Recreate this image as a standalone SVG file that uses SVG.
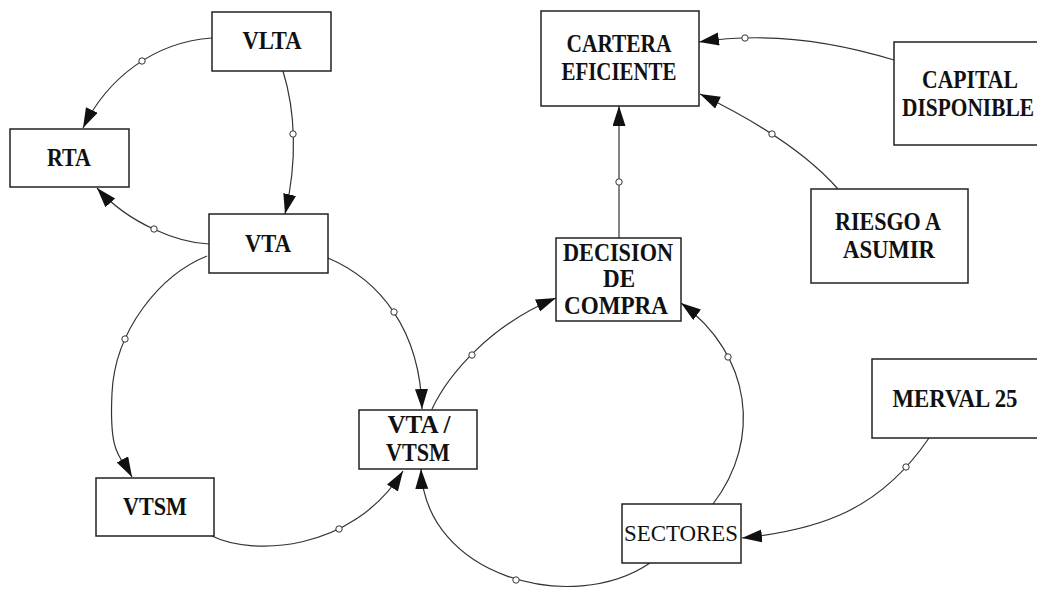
<svg xmlns="http://www.w3.org/2000/svg" width="1037" height="590" viewBox="0 0 1037 590">
<style>
.box{fill:#fff;stroke:#222;stroke-width:1.5}
.lbl{font-family:"Liberation Serif","Times New Roman",serif;font-weight:bold;font-size:24.5px;fill:#111;text-anchor:middle}
.reg{font-weight:normal;font-size:23px}
.con{fill:none;stroke:#333;stroke-width:1.2;marker-end:url(#ah)}
.dot{fill:#fff;stroke:#333;stroke-width:1}
</style>
<defs>
<marker id="ah" markerUnits="userSpaceOnUse" markerWidth="22" markerHeight="14" refX="20" refY="6.5" orient="auto">
<path d="M0,0 L20,6.5 L0,13 z" fill="#111"/>
</marker>
</defs>
<rect width="1037" height="590" fill="#fff"/>
<g id="connectors">
<path class="con" d="M212,38 C155,42 108,77 83,128"/>
<path class="con" d="M283,71 C295,110 298,160 285,214"/>
<path class="con" d="M209,244 C180,243 130,225 97,188"/>
<path class="con" d="M207,256 C160,275 115,330 112,393 C109,456 120,455 132,477"/>
<path class="con" d="M328,258 C380,280 420,330 422,409"/>
<path class="con" d="M212,536 C250,555 351,554 403,471"/>
<path class="con" d="M432,409 C448,375 490,325 556,298"/>
<path class="con" d="M650,563 C572,616 425,577 421,469"/>
<path class="con" d="M713,504 C762,440 752,355 681,303"/>
<path class="con" d="M929,438 C880,510 820,530 742,538"/>
<path class="con" d="M619,238 L619,106"/>
<path class="con" d="M838,189 Q795,140 700,94"/>
<path class="con" d="M894,60 Q790,28 699,42"/>
<circle class="dot" cx="142" cy="61" r="3.2"/>
<circle class="dot" cx="293" cy="134" r="3.2"/>
<circle class="dot" cx="154" cy="229" r="3.2"/>
<circle class="dot" cx="125" cy="339" r="3.2"/>
<circle class="dot" cx="394" cy="312" r="3.2"/>
<circle class="dot" cx="339" cy="529" r="3.2"/>
<circle class="dot" cx="472" cy="355" r="3.2"/>
<circle class="dot" cx="516" cy="580" r="3.2"/>
<circle class="dot" cx="728" cy="357" r="3.2"/>
<circle class="dot" cx="906" cy="467" r="3.2"/>
<circle class="dot" cx="619" cy="182" r="3.2"/>
<circle class="dot" cx="772" cy="134" r="3.2"/>
<circle class="dot" cx="745" cy="38" r="3.2"/>
</g>
<g id="VLTA"><rect class="box" x="212" y="12" width="119" height="59"/><text class="lbl" x="272" y="49" textLength="59" lengthAdjust="spacingAndGlyphs">VLTA</text></g>
<g id="RTA"><rect class="box" x="10" y="129" width="119" height="58"/><text class="lbl" x="69" y="166" textLength="44" lengthAdjust="spacingAndGlyphs">RTA</text></g>
<g id="VTA"><rect class="box" x="209" y="214" width="119" height="59"/><text class="lbl" x="268" y="252" textLength="46" lengthAdjust="spacingAndGlyphs">VTA</text></g>
<g id="VTSM"><rect class="box" x="96" y="478" width="118" height="58"/><text class="lbl" x="155" y="515" textLength="64" lengthAdjust="spacingAndGlyphs">VTSM</text></g>
<g id="VTA_VTSM"><rect class="box" x="359" y="410" width="118" height="59"/><text class="lbl" x="419" y="433" textLength="63" lengthAdjust="spacingAndGlyphs">VTA /</text><text class="lbl" x="418" y="461" textLength="64" lengthAdjust="spacingAndGlyphs">VTSM</text></g>
<g id="DECISION"><rect class="box" x="556" y="238" width="125" height="83"/><text class="lbl" x="618" y="261" textLength="110" lengthAdjust="spacingAndGlyphs">DECISION</text><text class="lbl" x="619" y="287" textLength="32" lengthAdjust="spacingAndGlyphs">DE</text><text class="lbl" x="616" y="314" textLength="104" lengthAdjust="spacingAndGlyphs">COMPRA</text></g>
<g id="CARTERA"><rect class="box" x="541" y="11" width="158" height="95"/><text class="lbl" x="619" y="52" textLength="105" lengthAdjust="spacingAndGlyphs">CARTERA</text><text class="lbl" x="619" y="80" textLength="115" lengthAdjust="spacingAndGlyphs">EFICIENTE</text></g>
<g id="CAPITAL"><rect class="box" x="894" y="42" width="152" height="103"/><text class="lbl" x="970" y="88" textLength="96" lengthAdjust="spacingAndGlyphs">CAPITAL</text><text class="lbl" x="968" y="116" textLength="132" lengthAdjust="spacingAndGlyphs">DISPONIBLE</text></g>
<g id="RIESGO"><rect class="box" x="811" y="189" width="157" height="94"/><text class="lbl" x="888" y="230" textLength="106" lengthAdjust="spacingAndGlyphs">RIESGO A</text><text class="lbl" x="889" y="258" textLength="92" lengthAdjust="spacingAndGlyphs">ASUMIR</text></g>
<g id="MERVAL"><rect class="box" x="872" y="359" width="172" height="79"/><text class="lbl" x="955" y="407" textLength="125" lengthAdjust="spacingAndGlyphs">MERVAL 25</text></g>
<g id="SECTORES"><rect class="box" x="622" y="504" width="119" height="59"/><text class="lbl reg" x="681" y="541" textLength="114" lengthAdjust="spacingAndGlyphs">SECTORES</text></g>
</svg>
